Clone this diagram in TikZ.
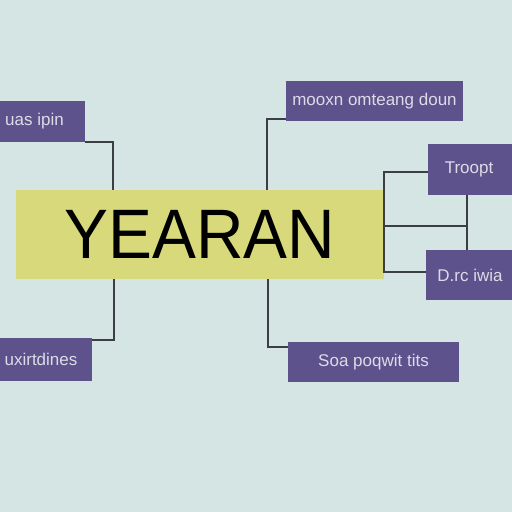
\documentclass[tikz,border=0pt]{standalone}
\usepackage{fontspec}
\setmainfont{Liberation Sans}
\definecolor{bgcol}{HTML}{D5E5E4}
\definecolor{boxcol}{HTML}{5E528C}
\definecolor{yearcol}{HTML}{D8D97A}
\definecolor{linecol}{HTML}{3B3F45}
\definecolor{labcol}{HTML}{DCDCE6}
\tikzset{
	itembox/.style = {fill = boxcol, text = labcol, font = \fontsize{17}{17}\selectfont, inner sep = 0pt},
	link/.style = {draw = linecol, line width = 2pt}
}

\begin{document}
\begin{tikzpicture}[x = 1pt, y = -1pt]
	\useasboundingbox (0,0) rectangle (512,512);
	\fill[bgcol] (0,0) rectangle (512,512);
	\begin{scope}
	\clip (0,0) rectangle (512,512);
	\node[fill = yearcol, minimum width = 368pt, minimum height = 89pt, inner sep = 0pt] (year) at (200,234.5) {\fontsize{70}{70}\selectfont\scalebox{0.94}[1]{YEARAN}};
	\node[itembox, minimum width = 125pt, minimum height = 41pt] (tl) at (22.5,121.5) {\hspace*{24pt}uas ipin};
	\node[itembox, minimum width = 132pt, minimum height = 43pt] (bl) at (26,359.5) {\hspace*{30pt}uxirtdines};
	\node[itembox, minimum width = 177pt, minimum height = 40pt] (tr) at (374.5,101) {mooxn omteang doun};
	\node[itembox, minimum width = 102pt, minimum height = 51pt] (r1) at (479,169.5) {Troopt\hspace*{20pt}};
	\node[itembox, minimum width = 104pt, minimum height = 50pt] (r2) at (478,275) {D.rc iwia\hspace*{16pt}};
	\node[itembox, minimum width = 171pt, minimum height = 40pt] (br) at (373.5,362) {Soa poqwit tits};
	\coordinate (mid) at (467,226);
	\end{scope}
	\draw[link] (tl.south east) -| ([xshift = 97pt]year.north west);
	\draw[link] ([xshift = 98pt]year.south west) |- ([yshift = -2pt]bl.north east);
	\draw[link] ([yshift = 2pt]tr.south west) -| ([xshift = 251pt]year.north west);
	\draw[link] ([xshift = 252pt]year.south west) |- ([yshift = -5pt]br.north west);
	\draw[link] ([yshift = -2.5pt]r1.west) -| (year.east) |- ([yshift = 3pt]r2.west);
	\draw[link] (year.east |- mid) -- (mid);
	\draw[link] ([xshift = -12pt]r1.south) -- ([xshift = -11pt]r2.north);
\end{tikzpicture}
\end{document}
